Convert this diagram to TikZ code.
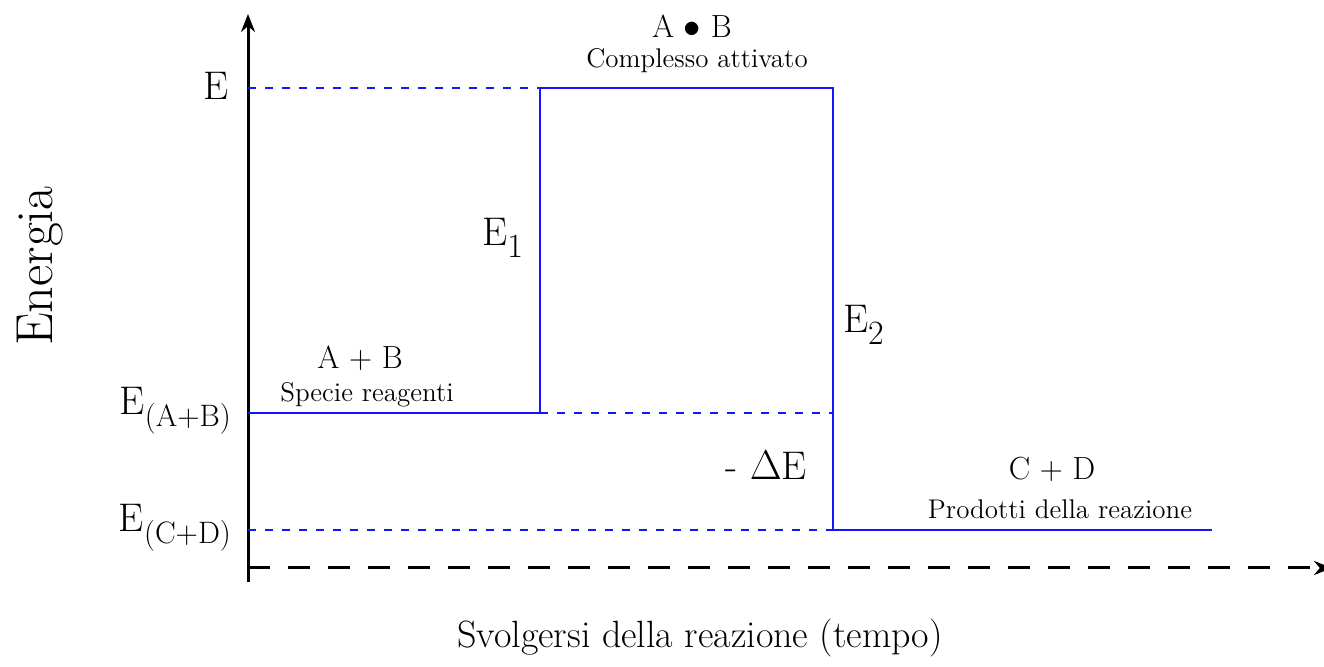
\documentclass[tikz,border=0pt]{standalone}
\usetikzlibrary{arrows.meta,positioning}
\definecolor{levelcolor}{RGB}{20,20,255}
\newcommand{\lvl}[2]{E\raisebox{-6pt}{\fontsize{#1}{#1}\selectfont #2}}

\begin{document}
\begin{tikzpicture}[
    x=0.5pt, y=-0.5pt,
    axis/.style={line width=1.5pt, -{Stealth[length=9pt,width=7pt]}},
    timeaxis/.style={axis, dash pattern=on 11pt off 9pt},
    level/.style={levelcolor, line width=0.8pt},
    guide/.style={levelcolor, line width=0.8pt, dash pattern=on 4pt off 4.5pt},
    ylabel/.style={font=\fontsize{26}{30}\selectfont},
    xlabel/.style={font=\fontsize{19}{22}\selectfont},
    energy/.style={font=\fontsize{20}{24}\selectfont, anchor=base east},
    species/.style={font=\fontsize{16}{19}\selectfont},
    note/.style={font=\fontsize{13.5}{16}\selectfont}
]
\useasboundingbox (0,0) rectangle (1324,667);

% Axes
\coordinate (origin) at (248,582);
\coordinate (ytop) at (248,14);
\coordinate (xstart) at (248,568);
\coordinate (xend) at (1332,568);
\draw[axis] (origin) -- (ytop);
\draw[timeaxis] (xstart) -- (xend);

% Energy levels
\coordinate (eTop) at (248,88);
\coordinate (eAB) at (248,413);
\coordinate (eCD) at (248,530);
\coordinate (rise) at (540,413);
\coordinate (riseTop) at (540,88);
\coordinate (fallTop) at (833,88);
\coordinate (fallMid) at (833,413);
\coordinate (fall) at (833,530);
\coordinate (cdEnd) at (1212,530);

% Reaction path
\draw[level] (eAB) -- (rise) -- (riseTop) -- (fallTop) -- (fall) -- (cdEnd);

% Dashed guides
\draw[guide] (eTop) -- (riseTop);
\draw[guide] (rise) -- (fallMid);
\draw[guide] (eCD) -- (fall);

% Axis labels
\node[ylabel, rotate=90] (energia) at (40,266) {Energia};
\node[xlabel] (tempo) at (700,638) {Svolgersi della reazione (tempo)};

% Level labels
\node[energy] (lblE) at (236,100) {E};
\node[energy] (lblAB) at (238,415) {\lvl{15.5}{(A+B)}};
\node[energy] (lblCD) at (238,532) {\lvl{15.5}{(C+D)}};

% Species
\node[species] (complex) at (692,26) {A $\bullet$ B};
\node[note] (complexnote) at (697,61) {Complesso attivato};
\node[species] (reagents) at (360,358) {A + B};
\node[note] (reagentsnote) at (367,395) {Specie reagenti};
\node[species] (products) at (1052,469) {C + D};
\node[note] (productsnote) at (1060,509) {Prodotti della reazione};

% Energy differences
\node[energy] (lblE1) at (530,246) {\lvl{17}{1}};
\node[energy, anchor=base west] (lblE2) at (836,333) {\lvl{17}{2}};
\node[energy] (lblDE) at (814,480) {- $\Delta$E};

\end{tikzpicture}
\end{document}
